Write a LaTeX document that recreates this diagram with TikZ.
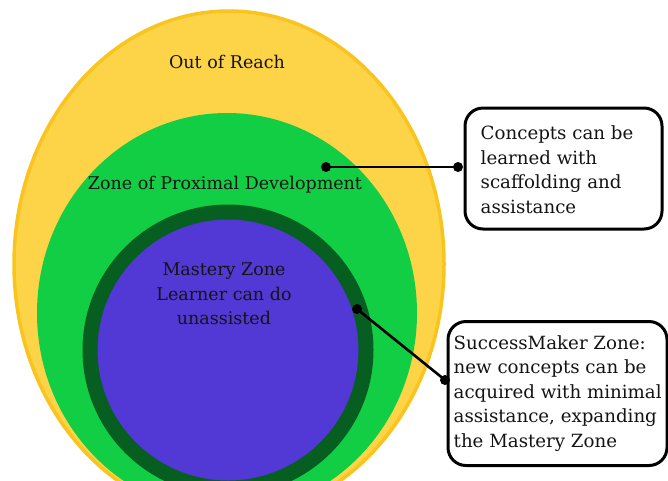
\documentclass[tikz,border=0pt]{standalone}
\usepackage{fontspec}
\setmainfont{DejaVu Serif}
\definecolor{ylw}{RGB}{253,212,72}
\definecolor{ylwb}{RGB}{250,196,30}
\definecolor{grn}{RGB}{18,206,68}
\definecolor{dgrn}{RGB}{6,94,32}
\definecolor{prp}{RGB}{82,56,212}
\definecolor{txt}{RGB}{20,20,20}
\tikzset{
  lbl/.style={font=\fontsize{17.5}{24.5}\selectfont, text=txt, align=center, inner sep=0pt},
  callout/.style={draw=black, line width=3pt, rounded corners=18pt, fill=white, inner sep=0pt},
  boxtext/.style={align=left, font=\fontsize{18.2}{24.5}\selectfont, text=txt, inner sep=0pt, anchor=west},
  link/.style={line width=2.6pt, black},
  dotc/.style={circle, fill=black, inner sep=0pt, minimum size=10pt}
}
\begin{document}
\begin{tikzpicture}[x=1pt,y=-1pt]
\useasboundingbox (0,0) rectangle (668,480);
\fill[white] (0,0) rectangle (668,480);
\begin{scope}
\clip (0,0) rectangle (668,480);
\filldraw[fill=ylw, draw=ylwb, line width=3.5pt] (229,264) ellipse [x radius=215, y radius=253];
\fill[grn] (227,313) ellipse [x radius=190, y radius=200];
\filldraw[fill=prp, draw=dgrn, line width=15pt] (228,350) circle [radius=138];
\end{scope}
\node[lbl] (out) at (227,62) {Out of Reach};
\node[lbl] (zpd) at (225,185) {Zone of Proximal Development};
\node[lbl] (mz) at (224,294) {Mastery Zone\\Learner can do\\unassisted};
% callout boxes
\node[callout, minimum width=197pt, minimum height=121pt] (b1) at (563.5,168.5) {};
\node[boxtext] (t1) at ([xshift=17pt,yshift=-1pt]b1.west)
  {Concepts can be\\learned with\\scaffolding and\\assistance};
\node[callout, minimum width=219pt, minimum height=144pt] (b2) at (557.5,393.5) {};
\node[boxtext] (t2) at ([xshift=7pt]b2.west)
  {SuccessMaker Zone:\\new concepts can be\\acquired with minimal\\assistance, expanding\\the Mastery Zone};
\coordinate (p1) at (326,167);
\coordinate (q1) at (458,167);
\coordinate (p2) at (357,309);
\coordinate (q2) at (445,380);
\node[dotc] (d1) at (p1) {};
\node[dotc] (e1) at (q1) {};
\node[dotc] (d2) at (p2) {};
\node[dotc] (e2) at (q2) {};
\draw[link] (d1.center) -- (e1.center);
\draw[link] (d2.center) -- (e2.center);
\end{tikzpicture}
\end{document}
